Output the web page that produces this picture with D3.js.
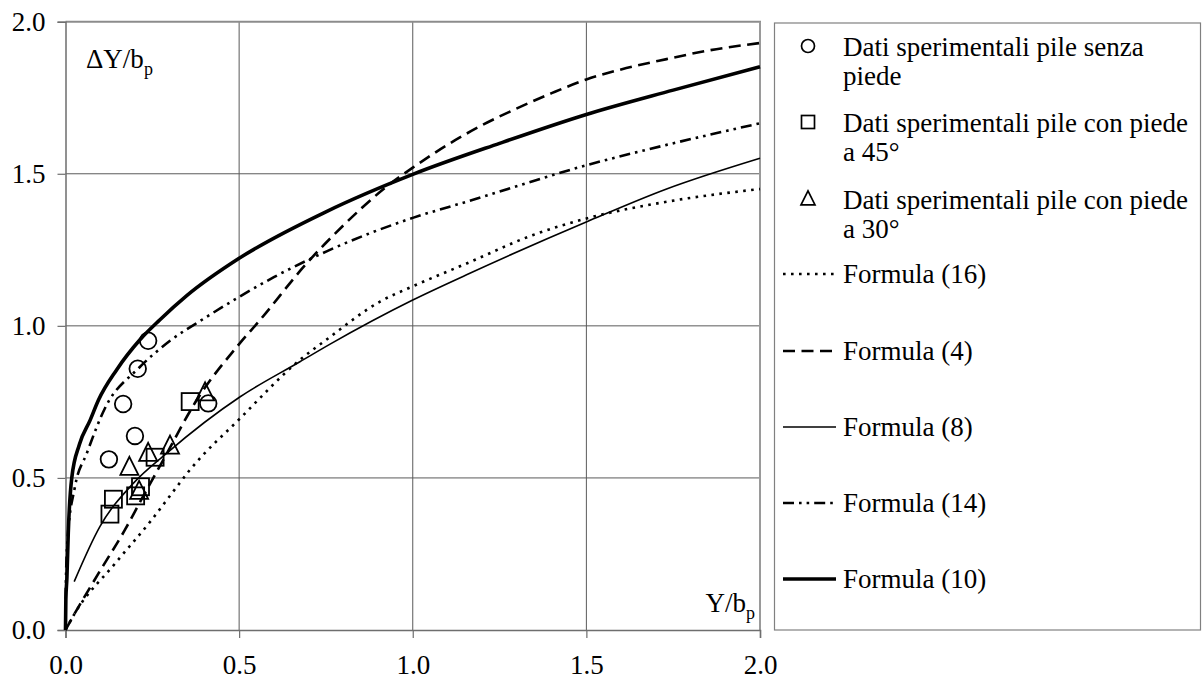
<!DOCTYPE html>
<html><head><meta charset="utf-8">
<script src="https://cdn.jsdelivr.net/npm/d3@7"></script>
<style>
html,body{margin:0;padding:0;background:#fff}
svg{display:block}
svg text{font-family:"Liberation Serif","Times New Roman",Times,"DejaVu Serif",serif;}
</style>
</head><body>
<svg id="chart" width="1202" height="682"></svg>
<script>
// ---- data ----
const xTicks = [0, 0.5, 1.0, 1.5, 2.0];
const yTicks = [0, 0.5, 1.0, 1.5, 2.0];

const circlesX = [0.125, 0.166, 0.200, 0.208, 0.238, 0.411];
const circlesY = [0.561, 0.743, 0.638, 0.859, 0.951, 0.745];
const squaresX = [0.128, 0.138, 0.202, 0.216, 0.258, 0.359];
const squaresY = [0.381, 0.430, 0.441, 0.471, 0.568, 0.751];
const trianglesX = [0.184, 0.212, 0.238, 0.301, 0.402];
const trianglesY = [0.535, 0.456, 0.581, 0.605, 0.780];

const f16X = [0, 0.027, 0.143, 0.248, 0.31, 0.358, 0.503, 0.675, 0.752, 0.906, 1.0, 1.155, 1.347, 1.503, 1.731, 2.0];
const f16Y = [0, 0.055, 0.219, 0.362, 0.455, 0.526, 0.696, 0.888, 0.955, 1.08, 1.13, 1.205, 1.299, 1.354, 1.408, 1.45];

const f4X = [0, 0.013, 0.095, 0.171, 0.219, 0.282, 0.378, 0.5, 0.56, 0.695, 0.8, 0.925, 1.0, 1.1, 1.2, 1.3, 1.4, 1.5, 1.6, 1.731, 1.85, 2.0];
const f4Y = [0, 0.027, 0.186, 0.329, 0.43, 0.56, 0.756, 0.94, 1.019, 1.206, 1.33, 1.458, 1.52, 1.595, 1.66, 1.715, 1.765, 1.81, 1.843, 1.877, 1.905, 1.93];

const f8X = [0.025, 0.099, 0.195, 0.291, 0.503, 0.675, 0.762, 1.0, 1.155, 1.503, 1.731, 2.0];
const f8Y = [0.159, 0.34, 0.482, 0.581, 0.767, 0.882, 0.94, 1.085, 1.168, 1.343, 1.45, 1.551];

const f14X = [0, 0.001, 0.006, 0.027, 0.061, 0.114, 0.21, 0.3, 0.4, 0.5, 0.6, 0.752, 1.0, 1.155, 1.503, 1.731, 2.0];
const f14Y = [0, 0.15, 0.30, 0.47, 0.58, 0.73, 0.86, 0.95, 1.025, 1.095, 1.16, 1.245, 1.355, 1.408, 1.529, 1.595, 1.666];

const f10X = [0, 0.001, 0.004, 0.008, 0.018, 0.04, 0.071, 0.095, 0.147, 0.215, 0.272, 0.35, 0.5, 0.75, 1.0, 1.25, 1.5, 1.75, 2.0];
const f10Y = [0, 0.10, 0.17, 0.32, 0.50, 0.61, 0.69, 0.756, 0.855, 0.955, 1.02, 1.10, 1.222, 1.375, 1.498, 1.60, 1.695, 1.775, 1.852];

const legendMarkerLabels = [
  ["Dati sperimentali pile senza", "piede"],
  ["Dati sperimentali pile con piede", "a 45°"],
  ["Dati sperimentali pile con piede", "a 30°"]
];
const formulaLabels = ["Formula (16)", "Formula (4)", "Formula (8)", "Formula (14)", "Formula (10)"];

// ---- drawing ----
const svg = d3.select("#chart");
const x = d3.scaleLinear().domain([0, 2]).range([65.5, 760]);
const y = d3.scaleLinear().domain([0, 2]).range([630, 21.7]);

const zip = (a, b) => a.map((v, i) => [v, b[i]]);

// gridlines
const grid = svg.append("g");
grid.selectAll("line.v").data(xTicks.filter(t => t > 0 && t < 2)).join("line")
  .attr("x1", d => x(d)).attr("x2", d => x(d)).attr("y1", y(0)).attr("y2", y(2))
  .attr("stroke", "#5a5a5a").attr("stroke-width", 1);
grid.selectAll("line.h").data(yTicks.filter(t => t > 0 && t < 2)).join("line")
  .attr("x1", x(0)).attr("x2", x(2)).attr("y1", d => y(d)).attr("y2", d => y(d))
  .attr("stroke", "#5a5a5a").attr("stroke-width", 1);
// plot border top & right
svg.append("line").attr("x1", x(0)).attr("x2", x(2) + 1).attr("y1", y(2)).attr("y2", y(2))
  .attr("stroke", "#8c8c8c").attr("stroke-width", 2);
svg.append("line").attr("x1", x(2)).attr("x2", x(2)).attr("y1", y(2)).attr("y2", y(0))
  .attr("stroke", "#9a9a9a").attr("stroke-width", 2);

// axes
const yAxis = d3.axisLeft(y).tickValues(yTicks).tickFormat(d3.format(".1f")).tickSize(8).tickPadding(12);
const gy = svg.append("g").attr("transform", `translate(${x(0)},0)`).call(yAxis);
const xAxis = d3.axisBottom(x).tickValues(xTicks).tickFormat(d3.format(".1f")).tickSize(8).tickPadding(17);
const gx = svg.append("g").attr("transform", `translate(0,${y(0)})`).call(xAxis);
[gx, gy].forEach(g => {
  g.attr("font-family", null).attr("font-size", null);
  g.select(".domain").attr("stroke", "#6e6e6e").attr("stroke-width", 1.5);
  g.selectAll(".tick line").attr("stroke", "#6e6e6e").attr("stroke-width", 1.2);
  g.selectAll(".tick text").attr("font-size", 27).attr("fill", "#000");
});

// curves
const line = d3.line().x(d => x(d[0])).y(d => y(d[1])).curve(d3.curveMonotoneX);
const series = [
  {data: zip(f16X, f16Y), w: 2.6, dash: "2.6,5.4"},
  {data: zip(f4X, f4Y), w: 2.6, dash: "12,6.5"},
  {data: zip(f8X, f8Y), w: 1.6, dash: null},
  {data: zip(f14X, f14Y), w: 2.6, dash: "11,5,2.6,5,2.6,5"},
  {data: zip(f10X, f10Y), w: 3.6, dash: null}
];
svg.append("g").selectAll("path").data(series).join("path")
  .attr("d", d => line(d.data)).attr("fill", "none").attr("stroke", "#000")
  .attr("stroke-width", d => d.w).attr("stroke-dasharray", d => d.dash);

// markers
const mk = svg.append("g").attr("fill", "none").attr("stroke", "#000").attr("stroke-width", 1.8);
mk.selectAll("circle").data(zip(circlesX, circlesY)).join("circle")
  .attr("cx", d => x(d[0])).attr("cy", d => y(d[1])).attr("r", 8.3);
mk.selectAll("rect").data(zip(squaresX, squaresY)).join("rect")
  .attr("x", d => x(d[0]) - 8.5).attr("y", d => y(d[1]) - 8.5).attr("width", 17).attr("height", 17);
const tri = (cx, cy, s) => `M${cx},${cy - s * 0.58}L${cx + s / 2},${cy + s * 0.42}L${cx - s / 2},${cy + s * 0.42}Z`;
mk.selectAll("path").data(zip(trianglesX, trianglesY)).join("path")
  .attr("d", d => tri(x(d[0]), y(d[1]), 18));

// axis titles
const t1 = svg.append("text").attr("x", 86).attr("y", 68).attr("font-size", 27);
t1.append("tspan").text("ΔY/b");
t1.append("tspan").attr("font-size", 18).attr("dy", 7).text("p");
const t2 = svg.append("text").attr("x", 755).attr("y", 612).attr("text-anchor", "end").attr("font-size", 27);
t2.append("tspan").text("Y/b");
t2.append("tspan").attr("font-size", 18).attr("dy", 7).text("p");

// legend
const lg = svg.append("g");
lg.append("rect").attr("x", 774.5).attr("y", 23).attr("width", 426).attr("height", 607)
  .attr("fill", "#fff").attr("stroke", "#808080").attr("stroke-width", 1.2);
const baseY = [56, 132, 209];
legendMarkerLabels.forEach((lines, i) => {
  const tx = lg.append("text").attr("x", 843).attr("y", baseY[i]).attr("font-size", 27);
  lines.forEach((s, j) => tx.append("tspan").attr("x", 843).attr("dy", j === 0 ? 0 : 29).text(s));
});
const lm = lg.append("g").attr("fill", "none").attr("stroke", "#000").attr("stroke-width", 1.7);
lm.append("circle").attr("cx", 808).attr("cy", baseY[0] - 10).attr("r", 6.5);
lm.append("rect").attr("x", 801.5).attr("y", baseY[1] - 16.5).attr("width", 13).attr("height", 13);
lm.append("path").attr("d", tri(808, baseY[2] - 10, 14));

const fy = [274, 351, 427, 503, 579];
formulaLabels.forEach((s, i) => {
  const sr = series[i];
  lg.append("line").attr("x1", 783).attr("x2", 836).attr("y1", fy[i]).attr("y2", fy[i])
    .attr("stroke", "#000").attr("stroke-width", sr.w).attr("stroke-dasharray", sr.dash);
  lg.append("text").attr("x", 843).attr("y", fy[i] + 9).attr("font-size", 27).text(s);
});
</script>
</body></html>
